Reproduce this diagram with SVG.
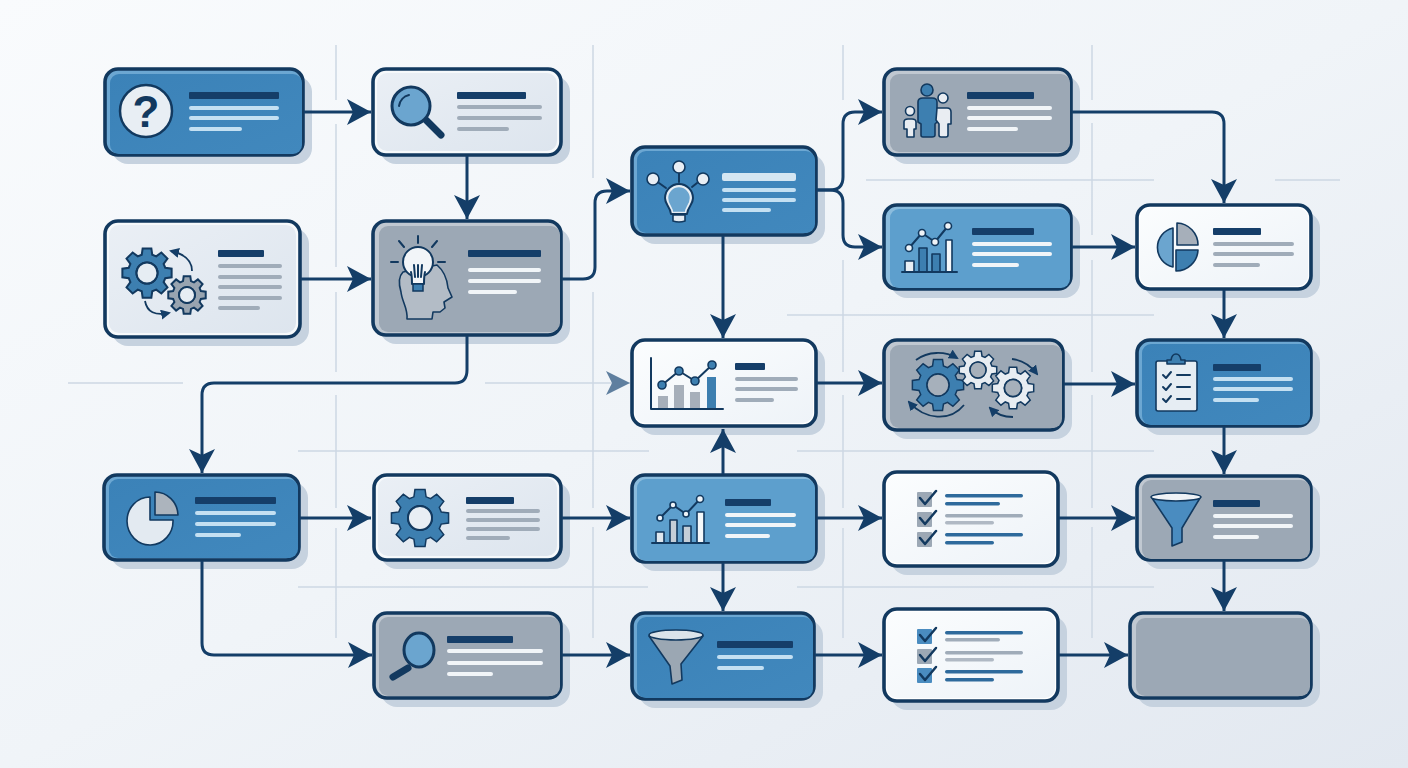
<svg xmlns="http://www.w3.org/2000/svg" xmlns:xlink="http://www.w3.org/1999/xlink" width="1408" height="768" viewBox="0 0 1408 768">
<defs>
<linearGradient id="bg" x1="0" y1="0" x2="1" y2="1"><stop offset="0" stop-color="#f9fbfd"/><stop offset=".5" stop-color="#f0f4f8"/><stop offset="1" stop-color="#e2e8f0"/></linearGradient>
<linearGradient id="gB" x1="0" y1="0" x2="1" y2="1"><stop offset="0" stop-color="#3b82b8"/><stop offset="1" stop-color="#4188bd"/></linearGradient>
<linearGradient id="gW" x1="0" y1="0" x2="1" y2="1"><stop offset="0" stop-color="#fbfdfe"/><stop offset="1" stop-color="#eef3f8"/></linearGradient>
<linearGradient id="gP" x1="0" y1="0" x2="1" y2="1"><stop offset="0" stop-color="#eaeff5"/><stop offset="1" stop-color="#dde5ee"/></linearGradient>
<marker id="ah" markerUnits="userSpaceOnUse" viewBox="0 0 25 26" refX="24" refY="13" markerWidth="25" markerHeight="26" orient="auto"><path d="M0 0 L24 13 L0 26 L6 13 Z" fill="#143e68"/></marker>
<path id="gear" fill-rule="evenodd" vector-effect="non-scaling-stroke" d="M73 -21L98.500 -17.400L98.500 17.400L73 21L66.500 36.800L81.900 57.400L57.400 81.900L36.800 66.500L21 73L17.400 98.500L-17.400 98.500L-21 73L-36.800 66.500L-57.400 81.900L-81.900 57.400L-66.500 36.800L-73 21L-98.500 17.400L-98.500 -17.400L-73 -21L-66.500 -36.800L-81.900 -57.400L-57.400 -81.900L-36.800 -66.500L-21 -73L-17.400 -98.500L17.400 -98.500L21 -73L36.800 -66.500L57.400 -81.900L81.900 -57.400L66.500 -36.800ZM42 0A42 42 0 1 0 -42 0A42 42 0 1 0 42 0Z"/>
<marker id="sm" markerUnits="userSpaceOnUse" viewBox="0 0 10 10" refX="8" refY="5" markerWidth="10" markerHeight="10" orient="auto"><path d="M0 0L10 5L0 10Z" fill="#143e68"/></marker>
</defs>
<style>
.sh{fill:#c6d2df}
.box{stroke:#12395f;stroke-width:3.600}
.blue .box{fill:#6ca7d2}.blue .in{fill:url(#gB)}
.sky .box{fill:#8bbcdd}.sky .in{fill:#5d9fcd}
.grey .box{fill:#c0c8d1}.grey .in{fill:#9ca8b5}
.white .box{fill:#fff}.white .in{fill:url(#gW)}
.pale .box{fill:#f6f9fb}.pale .in{fill:url(#gP)}
.t{fill:#153e69}
.lw{fill:#f1f5f8}.ls{fill:#c4e0f2}.lg{fill:#a0acb9}.lb{fill:#2e6a9c}.ll{fill:#b0b9c4}
.ic{stroke:#12395f;stroke-width:2;fill:none;stroke-linecap:round;stroke-linejoin:round}
.c{fill:none;stroke:#143e68;stroke-width:3;marker-end:url(#ah)}
.g{fill:none;stroke:#cdd8e3;stroke-width:1.500}
.ck{fill:none;stroke:#12395f;stroke-width:2.500;stroke-linecap:round;stroke-linejoin:round}
.gr{stroke:#12395f;stroke-width:1.600;stroke-linejoin:round}
.ar{fill:none;stroke:#12395f;stroke-width:1.800;marker-end:url(#sm)}
</style>
<rect width="1408" height="768" fill="url(#bg)"/>
<g id="grid" class="g">
<path d="M336 45V100M336 124V267M336 292V372M336 395V508M336 528V638"/>
<path d="M593 45V178M593 292V508M593 527V638"/>
<path d="M843 45V100M843 124V170M843 260V372M843 395V508M843 528V638"/>
<path d="M1092 45V100M1092 123V235M1092 260V372M1092 395V508M1092 527V638"/>
<path d="M68 383H183M485 383H630M866 180H1154M1275 180H1340M787 315H1154M298 451H649M797 451H1154M298 587H648M797 587H1154"/>
</g>
<g id="n1" class="blue"><rect class="sh" x="112" y="76" width="200" height="88" rx="16"/><rect class="box" x="105" y="69" width="198" height="86" rx="13"/><rect class="in" x="110" y="74" width="192" height="80" rx="9"/>
<circle cx="146" cy="111" r="26" fill="#e8eef4" stroke="#12395f" stroke-width="2.500"/><text x="146" y="127" font-family="Liberation Sans, Arial, sans-serif" font-size="44" font-weight="700" fill="#12395f" text-anchor="middle">?</text>
<rect class="t" x="189" y="92" width="90" height="7" rx="1"/><rect class="ls" x="189" y="106" width="90" height="4" rx="2"/><rect class="ls" x="189" y="116" width="90" height="4" rx="2"/><rect class="ls" x="189" y="127" width="53" height="4" rx="2"/></g>
<g id="n2" class="pale"><rect class="sh" x="380" y="76" width="190" height="88" rx="16"/><rect class="box" x="373" y="69" width="188" height="86" rx="13"/><rect class="in" x="377" y="73" width="180" height="78" rx="10"/>
<path d="M426 120L441 135" stroke="#12395f" stroke-width="7" stroke-linecap="round"/><circle cx="411" cy="106" r="19" fill="#6ba5cf" stroke="#12395f" stroke-width="3"/><path d="M399 106A13 13 0 0 1 409 95" class="ic" stroke-width="1.500"/>
<rect class="t" x="457" y="92" width="69" height="7" rx="1"/><rect class="lg" x="457" y="105" width="85" height="4" rx="2"/><rect class="lg" x="457" y="116" width="85" height="4" rx="2"/><rect class="lg" x="457" y="127" width="52" height="4" rx="2"/></g>
<g id="n3" class="pale"><rect class="sh" x="112" y="228" width="197" height="118" rx="16"/><rect class="box" x="105" y="221" width="195" height="116" rx="13"/><rect class="in" x="109" y="225" width="187" height="108" rx="10"/>
<use xlink:href="#gear" transform="translate(147 273) scale(.25)" fill="#3d7fb0" stroke="#12395f" stroke-width="2"/><circle cx="147" cy="273" r="10.500" fill="#e6edf3" stroke="#12395f" stroke-width="2"/>
<use xlink:href="#gear" transform="translate(187 295) scale(.19)" fill="#98a4b0" stroke="#12395f" stroke-width="2"/><circle cx="187" cy="295" r="8" fill="#e6edf3" stroke="#12395f" stroke-width="2"/>
<path class="ar" d="M192 271C192 261 184 254 171 251"/><path class="ar" d="M145 301C147 312 155 316 169 313"/>
<rect class="t" x="218" y="250" width="46" height="7" rx="1"/><rect class="lg" x="218" y="264" width="64" height="4" rx="2"/><rect class="lg" x="218" y="275" width="64" height="4" rx="2"/><rect class="lg" x="218" y="285" width="64" height="4" rx="2"/><rect class="lg" x="218" y="296" width="64" height="4" rx="2"/><rect class="lg" x="218" y="306" width="42" height="4" rx="2"/></g>
<g id="n4" class="grey"><rect class="sh" x="380" y="228" width="190" height="116" rx="16"/><rect class="box" x="373" y="221" width="188" height="114" rx="13"/><rect class="in" x="379" y="226" width="181" height="106" rx="9"/>
<path d="M407 319C408 308 402 302 401 292C398 282 399 276 403 272L437 265C443 270 447 278 448 288L452 297L444 302L445 308L440 312L433 312L432 319Z" fill="#b3bcc6" class="gr"/>
<circle cx="418" cy="262" r="15" fill="#f2f5f8" stroke="#12395f" stroke-width="2"/><path d="M411 273H425V284H411Z" fill="#f2f5f8"/><path d="M411 272C412 276 412 280 412 284H424C424 280 424 276 425 272" class="ic"/><path d="M413 284H423V291H413Z" fill="#3d7fb0" stroke="#12395f" stroke-width="1.500"/><path d="M415 277L414 265M418 277V265M421 277L422 265" class="ic" stroke-width="1.300"/>
<path d="M418 236V243M399 241L404 247M437 241L432 247M391 262H398M438 262H445" class="ic"/>
<rect class="t" x="468" y="250" width="73" height="7" rx="1"/><rect class="lw" x="468" y="268" width="73" height="4" rx="2"/><rect class="lw" x="468" y="279" width="73" height="4" rx="2"/><rect class="lw" x="468" y="290" width="49" height="4" rx="2"/></g>
<g id="n5" class="blue"><rect class="sh" x="639" y="154" width="186" height="90" rx="16"/><rect class="box" x="632" y="147" width="184" height="88" rx="13"/><rect class="in" x="637" y="151" width="178" height="82" rx="9"/>
<path d="M659 183L666 188M679 173V182M697 183L692 187" class="ic"/><circle cx="653" cy="179" r="6" fill="#e8eef4" class="gr"/><circle cx="679" cy="167" r="6" fill="#e8eef4" class="gr"/><circle cx="703" cy="179" r="6" fill="#e8eef4" class="gr"/>
<path d="M672 213C672 207 667 205 667 198A12 12 0 1 1 691 198C691 205 686 207 686 213Z" fill="#6ba5cf" stroke="#e8eef4" stroke-width="2.500"/><path d="M671 214C670 206 665 205 665 198A14 14 0 1 1 693 198C693 205 688 206 687 214Z" class="ic"/><path d="M673 215H685V221Q679 223 673 221Z" fill="#e8eef4" class="gr"/>
<rect x="722" y="173" width="74" height="8" rx="2" fill="#d4e6f2"/><rect class="ls" x="722" y="188" width="74" height="4" rx="2"/><rect class="ls" x="722" y="198" width="74" height="4" rx="2"/><rect class="ls" x="722" y="208" width="49" height="4" rx="2"/></g>
<g id="n6" class="grey"><rect class="sh" x="891" y="76" width="189" height="88" rx="16"/><rect class="box" x="884" y="69" width="187" height="86" rx="13"/><rect class="in" x="890" y="74" width="180" height="78" rx="9"/>
<path d="M918 102Q918 98 923 98H932Q937 98 937 102V122L935 124V135Q935 137 932 137H923Q921 137 921 135V124L918 122Z" fill="#3d7fb0" class="gr"/><circle cx="927" cy="90" r="6" fill="#3d7fb0" class="gr"/>
<path d="M937 108H947Q951 108 951 112V124H948V135Q948 137 946 137H941Q939 137 939 135V124L936 120Z" fill="#e9edf2" class="gr"/><circle cx="943" cy="98" r="5" fill="#e9edf2" class="gr"/>
<path d="M904 122Q904 119 908 119H912Q916 119 916 122V129H914V137H907V129H904Z" fill="#e9edf2" class="gr"/><circle cx="910" cy="111" r="4.500" fill="#e9edf2" class="gr"/>
<rect class="t" x="967" y="92" width="67" height="7" rx="1"/><rect class="lw" x="967" y="106" width="85" height="4" rx="2"/><rect class="lw" x="967" y="116" width="85" height="4" rx="2"/><rect class="lw" x="967" y="127" width="51" height="4" rx="2"/></g>
<g id="n7" class="sky"><rect class="sh" x="891" y="212" width="189" height="86" rx="16"/><rect class="box" x="884" y="205" width="187" height="84" rx="13"/><rect class="in" x="890" y="209" width="180" height="79" rx="9"/>
<rect x="905" y="261" width="9" height="11" fill="#e8eef4" class="gr"/><rect x="919" y="248" width="8" height="24" fill="#3d7fb0" class="gr"/><rect x="932" y="254" width="8" height="18" fill="#3d7fb0" class="gr"/><rect x="946" y="240" width="6" height="32" fill="#f5f8fa" class="gr"/><path d="M902 272H957" class="ic"/>
<path d="M909 248L922 233L935 242L948 226" class="ic"/><g fill="#eef3f7" class="gr"><circle cx="909" cy="248" r="3.500"/><circle cx="922" cy="233" r="3.500"/><circle cx="935" cy="242" r="3.500"/><circle cx="948" cy="226" r="3.500"/></g>
<rect class="t" x="972" y="228" width="62" height="7" rx="1"/><rect class="lw" x="972" y="242" width="80" height="4" rx="2"/><rect class="lw" x="972" y="252" width="80" height="4" rx="2"/><rect class="lw" x="972" y="263" width="47" height="4" rx="2"/></g>
<g id="n8" class="white"><rect class="sh" x="1144" y="212" width="176" height="86" rx="16"/><rect class="box" x="1137" y="205" width="174" height="84" rx="13"/><rect class="in" x="1140" y="208" width="168" height="78" rx="10"/>
<path d="M1173 228V267A20 20 0 0 1 1173 228Z" fill="#6ba5cf" class="gr"/><path d="M1177 223A22 22 0 0 1 1198 245H1177Z" fill="#a6afba" class="gr"/><path d="M1176 250H1198A22 22 0 0 1 1176 271Z" fill="#3d7fb0" class="gr"/>
<rect class="t" x="1213" y="228" width="48" height="7" rx="1"/><rect class="lg" x="1213" y="242" width="81" height="4" rx="2"/><rect class="lg" x="1213" y="252" width="81" height="4" rx="2"/><rect class="lg" x="1213" y="263" width="47" height="4" rx="2"/></g>
<g id="n9" class="white"><rect class="sh" x="639" y="347" width="186" height="88" rx="16"/><rect class="box" x="632" y="340" width="184" height="86" rx="13"/><rect class="in" x="635" y="343" width="178" height="80" rx="10"/>
<rect x="658" y="396" width="10" height="13" fill="#a6afba"/><rect x="674" y="385" width="10" height="24" fill="#a6afba"/><rect x="690" y="392" width="10" height="17" fill="#a6afba"/><rect x="707" y="377" width="9" height="32" fill="#3d7fb0"/>
<path d="M651 358V409H723" class="ic"/><path d="M662 385L679 371L695 381L712 365" class="ic"/><g fill="#3d7fb0" class="gr"><circle cx="662" cy="385" r="4"/><circle cx="679" cy="371" r="4"/><circle cx="695" cy="381" r="4"/><circle cx="712" cy="365" r="4"/></g>
<rect class="t" x="735" y="363" width="30" height="7" rx="1"/><rect class="lg" x="735" y="377" width="63" height="4" rx="2"/><rect class="lg" x="735" y="387" width="63" height="4" rx="2"/><rect class="lg" x="735" y="398" width="39" height="4" rx="2"/></g>
<g id="n10" class="grey"><rect class="sh" x="891" y="347" width="181" height="92" rx="16"/><rect class="box" x="884" y="340" width="179" height="90" rx="13"/><rect class="in" x="890" y="345" width="172" height="83" rx="9"/>
<use xlink:href="#gear" transform="translate(938 385) scale(.26)" fill="#3d7fb0" stroke="#12395f" stroke-width="1.500"/><circle cx="938" cy="385" r="11" fill="#a6b0bb" stroke="#12395f" stroke-width="1.500"/>
<use xlink:href="#gear" transform="translate(978 370) scale(.19)" fill="#e8edf2" stroke="#12395f" stroke-width="1.500"/><circle cx="978" cy="370" r="8" fill="#a6b0bb" stroke="#12395f" stroke-width="1.500"/>
<use xlink:href="#gear" transform="translate(1013 388) scale(.21)" fill="#e8edf2" stroke="#12395f" stroke-width="1.500"/><circle cx="1013" cy="388" r="8.500" fill="#a6b0bb" stroke="#12395f" stroke-width="1.500"/>
<path class="ar" d="M916 360C928 351 945 351 957 358"/><path class="ar" d="M964 405C950 422 925 420 909 402"/><path class="ar" d="M1012 359C1022 360 1030 365 1037 374"/><path class="ar" d="M1013 417C1003 417 996 414 990 408"/></g>
<g id="n11" class="blue"><rect class="sh" x="1144" y="347" width="176" height="88" rx="16"/><rect class="box" x="1137" y="340" width="174" height="86" rx="13"/><rect class="in" x="1142" y="344" width="168" height="81" rx="9"/>
<rect x="1156" y="361" width="41" height="50" rx="2" fill="#e6edf3" class="gr"/><path d="M1167 364V360H1171Q1172 354 1176 354Q1180 354 1181 360H1185V364Z" fill="#3d7fb0" class="gr"/>
<path d="M1163 375L1166 378L1171 372M1163 387L1166 390L1171 384M1163 399L1166 402L1171 396" class="ic"/><path d="M1177 375H1190M1177 387H1190M1177 399H1190" class="ic"/>
<rect class="t" x="1213" y="364" width="48" height="7" rx="1"/><rect class="ls" x="1213" y="377" width="80" height="4" rx="2"/><rect class="ls" x="1213" y="387" width="80" height="4" rx="2"/><rect class="ls" x="1213" y="398" width="46" height="4" rx="2"/></g>
<g id="n12" class="blue"><rect class="sh" x="111" y="482" width="197" height="87" rx="16"/><rect class="box" x="104" y="475" width="195" height="85" rx="13"/><rect class="in" x="109" y="479" width="189" height="79" rx="9"/>
<path d="M150 497V520H173A23 24 0 1 1 150 497Z" fill="#e3eaf1" class="gr"/><path d="M155 492A23 24 0 0 1 178 515H155Z" fill="#acb4bd" class="gr"/>
<rect class="t" x="195" y="497" width="81" height="7" rx="1"/><rect class="ls" x="195" y="511" width="81" height="4" rx="2"/><rect class="ls" x="195" y="522" width="81" height="4" rx="2"/><rect class="ls" x="195" y="533" width="46" height="4" rx="2"/></g>
<g id="n13" class="pale"><rect class="sh" x="381" y="482" width="189" height="87" rx="16"/><rect class="box" x="374" y="475" width="187" height="85" rx="13"/><rect class="in" x="378" y="478" width="179" height="78" rx="10"/>
<use xlink:href="#gear" transform="translate(420 518) scale(.29)" fill="#3d7fb0" stroke="#12395f" stroke-width="1.500"/><circle cx="420" cy="518" r="12" fill="#e8eef4" stroke="#12395f" stroke-width="2"/>
<rect class="t" x="466" y="497" width="48" height="7" rx="1"/><rect class="lg" x="466" y="509" width="74" height="4" rx="2"/><rect class="lg" x="466" y="518" width="74" height="4" rx="2"/><rect class="lg" x="466" y="527" width="74" height="4" rx="2"/><rect class="lg" x="466" y="536" width="44" height="4" rx="2"/></g>
<g id="n14" class="sky"><rect class="sh" x="639" y="482" width="186" height="89" rx="16"/><rect class="box" x="632" y="475" width="184" height="87" rx="13"/><rect class="in" x="637" y="479" width="178" height="82" rx="9"/>
<rect x="656" y="532" width="8" height="11" fill="#dfe7ee" class="gr"/><rect x="670" y="520" width="7" height="23" fill="#c5ced7" class="gr"/><rect x="683" y="526" width="8" height="17" fill="#c5ced7" class="gr"/><rect x="697" y="512" width="7" height="31" fill="#f5f8fa" class="gr"/><path d="M652 543H709" class="ic"/>
<path d="M660 518L673 505L686 514L700 499" class="ic"/><g fill="#eef3f7" class="gr"><circle cx="660" cy="518" r="3"/><circle cx="673" cy="505" r="3"/><circle cx="686" cy="514" r="3"/><circle cx="700" cy="499" r="3.500"/></g>
<rect class="t" x="725" y="499" width="46" height="7" rx="1"/><rect class="lw" x="725" y="513" width="71" height="4" rx="2"/><rect class="lw" x="725" y="523" width="71" height="4" rx="2"/><rect class="lw" x="725" y="534" width="45" height="4" rx="2"/></g>
<g id="n15" class="white"><rect class="sh" x="891" y="479" width="176" height="96" rx="16"/><rect class="box" x="884" y="472" width="174" height="94" rx="13"/><rect class="in" x="887" y="475" width="168" height="88" rx="10"/>
<rect x="917" y="492" width="15" height="15" rx="1" fill="#9ca8b5"/><rect x="917" y="512" width="15" height="15" rx="1" fill="#9ca8b5"/><rect x="917" y="532" width="15" height="15" rx="1" fill="#9ca8b5"/>
<path class="ck" d="M920 498L925 504L936 491M920 518L925 524L936 511M920 538L925 544L936 531"/>
<rect class="lb" x="945" y="494" width="78" height="3.500" rx="1.700"/><rect class="lb" x="945" y="502" width="55" height="3.500" rx="1.700"/><rect class="lg" x="945" y="514" width="78" height="3.500" rx="1.700"/><rect class="ll" x="945" y="521" width="49" height="3.500" rx="1.700"/><rect class="lb" x="945" y="533" width="78" height="3.500" rx="1.700"/><rect class="lb" x="945" y="541" width="49" height="3.500" rx="1.700"/></g>
<g id="n16" class="grey"><rect class="sh" x="1144" y="483" width="176" height="86" rx="16"/><rect class="box" x="1137" y="476" width="174" height="84" rx="13"/><rect class="in" x="1142" y="480" width="168" height="79" rx="9"/>
<path d="M1152 498L1172 528V546L1182 542V528L1200 498Z" fill="#4a8cc0" class="gr"/><ellipse cx="1176" cy="497" rx="25" ry="4" fill="#eef2f6" class="gr"/>
<rect class="t" x="1213" y="500" width="47" height="7" rx="1"/><rect class="lw" x="1213" y="514" width="80" height="4" rx="2"/><rect class="lw" x="1213" y="524" width="80" height="4" rx="2"/><rect class="lw" x="1213" y="535" width="46" height="4" rx="2"/></g>
<g id="n17" class="grey"><rect class="sh" x="381" y="620" width="189" height="87" rx="16"/><rect class="box" x="374" y="613" width="187" height="85" rx="13"/><rect class="in" x="379" y="617" width="181" height="79" rx="9"/>
<path d="M408 668L393 677" stroke="#12395f" stroke-width="7" stroke-linecap="round"/><ellipse cx="419" cy="650" rx="15" ry="17" fill="#6ba5cf" stroke="#12395f" stroke-width="3"/>
<rect class="t" x="447" y="636" width="66" height="7" rx="1"/><rect class="lw" x="447" y="649" width="96" height="4" rx="2"/><rect class="lw" x="447" y="661" width="96" height="4" rx="2"/><rect class="lw" x="447" y="672" width="46" height="4" rx="2"/></g>
<g id="n18" class="blue"><rect class="sh" x="639" y="620" width="184" height="88" rx="16"/><rect class="box" x="632" y="613" width="182" height="86" rx="13"/><rect class="in" x="637" y="617" width="176" height="81" rx="9"/>
<path d="M649 636L670 666L672 684L682 680L681 664L703 636Z" fill="#9ba7b3" class="gr"/><ellipse cx="676" cy="635" rx="27" ry="5" fill="#dbe3ea" class="gr"/>
<rect class="t" x="717" y="641" width="76" height="7" rx="1"/><rect class="ls" x="717" y="655" width="76" height="4" rx="2"/><rect class="ls" x="717" y="666" width="47" height="4" rx="2"/></g>
<g id="n19" class="white"><rect class="sh" x="891" y="616" width="176" height="94" rx="16"/><rect class="box" x="884" y="609" width="174" height="92" rx="13"/><rect class="in" x="887" y="612" width="168" height="86" rx="10"/>
<rect x="917" y="629" width="15" height="15" rx="1" fill="#4a8cc0"/><rect x="917" y="649" width="15" height="15" rx="1" fill="#9ca8b5"/><rect x="917" y="668" width="15" height="15" rx="1" fill="#4a8cc0"/>
<path class="ck" d="M920 635L925 641L936 628M920 655L925 661L936 648M920 674L925 680L936 667"/>
<rect class="lb" x="945" y="631" width="78" height="3.500" rx="1.700"/><rect class="lg" x="945" y="638" width="55" height="3.500" rx="1.700"/><rect class="lg" x="945" y="651" width="78" height="3.500" rx="1.700"/><rect class="ll" x="945" y="658" width="49" height="3.500" rx="1.700"/><rect class="lb" x="945" y="670" width="78" height="3.500" rx="1.700"/><rect class="lb" x="945" y="678" width="49" height="3.500" rx="1.700"/></g>
<g id="n20" class="grey"><rect class="sh" x="1137" y="620" width="183" height="87" rx="16"/><rect class="box" x="1130" y="613" width="181" height="85" rx="13"/><rect class="in" x="1136" y="618" width="174" height="78" rx="9"/></g>
<g id="connectors">
<path class="c" d="M304 112H371"/><path class="c" d="M467 156V219"/><path class="c" d="M301 279H371"/>
<path class="c" d="M562 279H583Q595 279 595 267V203Q595 191 607 191H630"/>
<path class="c" d="M817 190H830Q843 190 843 177V124Q843 112 855 112H882"/><path class="c" d="M817 190H830Q843 190 843 203V235Q843 247 855 247H882"/>
<path class="c" d="M1072 112H1212Q1224 112 1224 124V203"/><path class="c" d="M1072 247H1135"/><path class="c" d="M1224 290V338"/>
<path class="c" d="M723 236V338"/><path class="c" d="M817 383H882"/><path class="c" d="M1064 384H1135"/><path class="c" d="M1224 427V474"/>
<path class="c" d="M467 336V370Q467 383 455 383H214Q202 383 202 395V473"/>
<path class="c" d="M300 518H371"/><path class="c" d="M562 518H630"/><path class="c" d="M723 474V429"/><path class="c" d="M723 563V611"/><path class="c" d="M817 518H882"/><path class="c" d="M1059 518H1135"/><path class="c" d="M1224 561V611"/>
<path class="c" d="M202 561V643Q202 655 214 655H372"/><path class="c" d="M562 655H630"/><path class="c" d="M815 655H882"/><path class="c" d="M1059 655H1128"/>
<path d="M606 371L630 383L606 395L612 383Z" fill="#5f7f9f"/>
</g>
</svg>
